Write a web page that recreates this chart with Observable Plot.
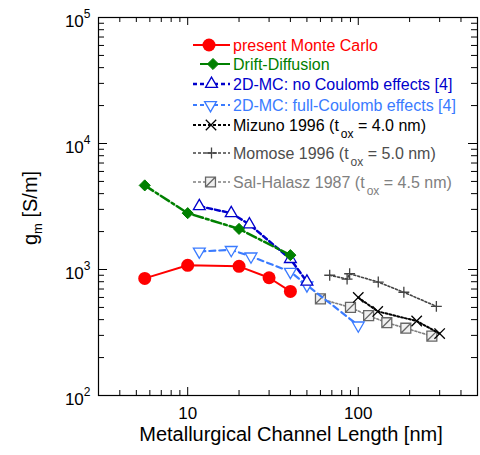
<!DOCTYPE html>
<html><head><meta charset="utf-8">
<script src="https://cdn.jsdelivr.net/npm/d3@7"></script>
<script src="https://cdn.jsdelivr.net/npm/@observablehq/plot@0.6"></script>
<style>
body{margin:0;background:#fff;}
#chart{width:480px;height:455px;}
</style></head><body><div id="chart"></div>
<script>
// ---- data ----
const mcL  = [5.6, 10, 20, 30, 40];
const mcG  = [850, 1080, 1060, 860, 670];
const ddL  = [5.6, 10, 20, 40];
const ddG  = [4650, 2800, 2100, 1300];
const noCL = [11.7, 18, 23, 40, 50];
const noCG = [3180, 2800, 2280, 1210, 800];
const fcL  = [11.7, 18, 23.5, 40, 50, 100];
const fcG  = [1390, 1430, 1270, 960, 750, 360];
const mizL = [100, 130, 220, 300];
const mizG = [600, 465, 390, 310];
const momL = [68, 86, 89, 131, 185, 287];
const momG = [900, 840, 925, 795, 660, 510];
const salL = [60, 90, 115, 147, 190, 270];
const salG = [585, 500, 430, 378, 342, 296];

const xMajor = [10, 100];
const xMinor = [4, 5, 6, 7, 8, 9, 20, 30, 40, 50, 60, 70, 80, 90, 200, 300, 400];
const yMajor = [100, 1000, 10000, 100000];
const yMinor = [200, 300, 400, 500, 600, 700, 800, 900, 2000, 3000, 4000, 5000, 6000, 7000, 8000, 9000,
                20000, 30000, 40000, 50000, 60000, 70000, 80000, 90000];

const legendLabels = [
  ["present Monte Carlo"],
  ["Drift-Diffusion"],
  ["2D-MC: no Coulomb effects [4]"],
  ["2D-MC: full-Coulomb effects [4]"],
  ["Mizuno 1996 (t", "ox", " = 4.0 nm)"],
  ["Momose 1996 (t", "ox", " = 5.0 nm)"],
  ["Sal-Halasz 1987 (t", "ox", " = 4.5 nm)"]
];
const xTitle = "Metallurgical Channel Length [nm]";

// ---- styling ----
const FONT = "'Liberation Sans', Arial, Helvetica, sans-serif";
const W = 480, H = 455, ML = 98, MR = 3, MT = 17, MB = 60;
const FW = W - ML - MR, FH = H - MT - MB;

const boxSlash = {
  draw(ctx, size) {
    const s = Math.sqrt(size) / 2;
    ctx.moveTo(-s, -s); ctx.lineTo(s, -s); ctx.lineTo(s, s); ctx.lineTo(-s, s); ctx.closePath();
    ctx.moveTo(-s, s); ctx.lineTo(s, -s);
  }
};

const zip = (L, G) => L.map((l, i) => ({L: l, g: G[i]}));
const S = [
  {d: zip(salL, salG), color: "#808080", sw: 1.6, dash: "2,2", sym: boxSlash, r: 5.6, fill: "#f0f0f0", mstroke: "#666", msw: 1.3},
  {d: zip(momL, momG), color: "#444", sw: 1.6, dash: "2,2", sym: "plus", r: 3.6, fill: "none", mstroke: "#444", msw: 1.3},
  {d: zip(mizL, mizG), color: "#000", sw: 2, dash: "2,2", sym: "times", r: 4.8, fill: "none", mstroke: "#000", msw: 1.3},
  {d: zip(fcL, fcG), color: "#3a7bff", sw: 2.2, dash: "6,4", sym: "triangle", r: 4.4, fill: "#fff", mstroke: "#3a7bff", msw: 1.3, rot: 180},
  {d: zip(noCL, noCG), color: "#0000cc", sw: 2.5, dash: "5,3", sym: "triangle", r: 4.4, fill: "#fff", mstroke: "#0000cc", msw: 1.3},
  {d: zip(ddL, ddG), color: "#008000", sw: 2.5, dash: "10,3,3,3", sym: "diamond2", r: 5.0, fill: "#008000", mstroke: "#008000", msw: 1},
  {d: zip(mcL, mcG), color: "#ff0000", sw: 2, dash: null, sym: "circle", r: 6.5, fill: "#ff0000", mstroke: "none", msw: 0}
];

const marks = [];
for (const s of S) {
  marks.push(Plot.line(s.d, {x: "L", y: "g", stroke: s.color, strokeWidth: s.sw, strokeDasharray: s.dash}));
  marks.push(Plot.dot(s.d, {x: "L", y: "g", symbol: s.sym, r: s.r, fill: s.fill, stroke: s.mstroke,
    strokeWidth: s.msw, rotate: s.rot || 0}));
}
marks.push(
  Plot.tickY(yMajor, {y: d => d, insetRight: FW - 9, stroke: "#000"}),
  Plot.tickY(yMinor, {y: d => d, insetRight: FW - 6, stroke: "#000"}),
  Plot.tickY(yMajor, {y: d => d, insetLeft: FW - 9, stroke: "#000"}),
  Plot.tickY(yMinor, {y: d => d, insetLeft: FW - 6, stroke: "#000"}),
  Plot.tickX(xMajor, {x: d => d, insetTop: FH - 8, stroke: "#000"}),
  Plot.tickX(xMinor, {x: d => d, insetTop: FH - 5, stroke: "#000"}),
  Plot.tickX(xMajor, {x: d => d, insetBottom: FH - 8, stroke: "#000"}),
  Plot.tickX(xMinor, {x: d => d, insetBottom: FH - 5, stroke: "#000"}),
  Plot.frame({stroke: "#000", strokeWidth: 1.2}),
  Plot.axisX(xMajor, {tickSize: 0, tickPadding: 11, fontSize: 17, label: null, tickFormat: d => String(d)}),
  Plot.axisY(yMajor, {tickSize: 0, tickPadding: 8, fontSize: 17, label: null,
    tickFormat: d => String(Math.round(Math.log10(d)))})
);

const svgEl = Plot.plot({
  width: W, height: H,
  marginLeft: ML, marginRight: MR, marginTop: MT, marginBottom: MB,
  style: {fontFamily: FONT, background: "#fff", color: "#000", overflow: "visible"},
  x: {type: "log", domain: [3, 500]},
  y: {type: "log", domain: [100, 100000]},
  marks
});
document.getElementById("chart").append(svgEl);

const svg = d3.select(svgEl);
// superscript exponents on y tick labels
svg.selectAll('g[aria-label="y-axis tick label"] text').each(function() {
  const t = d3.select(this);
  const e = t.text();
  t.text("");
  t.append("tspan").attr("dy", "4").text("10");
  t.append("tspan").attr("dy", "-9").attr("font-size", 12).text(e);
});

// axis titles
svg.append("text").attr("x", 291).attr("y", 441).attr("text-anchor", "middle")
  .attr("font-family", FONT).attr("font-size", 20).attr("fill", "#000").text(xTitle);
const yt = svg.append("text").attr("transform", "translate(37,208) rotate(-90)")
  .attr("text-anchor", "middle").attr("font-family", FONT).attr("font-size", 20).attr("fill", "#000");
yt.append("tspan").text("g");
yt.append("tspan").attr("font-size", 13).attr("dy", 5).text("m");
yt.append("tspan").attr("dy", -5).text(" [S/m]");

// legend
const rows = [
  {y: 45,  x1: 193, s: S[6], mx: 209, tc: "#ff0000", dash: null, sw: 2},
  {y: 64,  x1: 200, s: S[5], mx: 213, tc: "#008000", dash: null, sw: 2},
  {y: 84,  x1: 193, s: S[4], mx: 211.5, tc: "#0000cc", dash: "4,3", sw: 2.5},
  {y: 105, x1: 193, s: S[3], mx: 210.5, tc: "#3a7bff", dash: "4,3", sw: 1.8},
  {y: 125, x1: 193, s: S[2], mx: 211, tc: "#000", dash: "3,2", sw: 1.8},
  {y: 153, x1: 193, s: S[1], mx: 211.5, tc: "#4d4d4d", dash: "3,2", sw: 1.6},
  {y: 182, x1: 193, s: S[0], mx: 210.5, tc: "#808080", dash: "3,2", sw: 1.6}
];
const symMap = {circle: d3.symbolCircle, diamond2: d3.symbolDiamond2, triangle: d3.symbolTriangle,
  times: d3.symbolTimes, plus: d3.symbolPlus};
const lg = svg.append("g").attr("font-family", FONT).attr("font-size", 16).attr("text-anchor", "start");
rows.forEach((r, i) => {
  const s = r.s;
  lg.append("line").attr("x1", r.x1).attr("x2", 230).attr("y1", r.y).attr("y2", r.y)
    .attr("stroke", s.color).attr("stroke-width", r.sw).attr("stroke-dasharray", r.dash);
  const sym = typeof s.sym === "string" ? symMap[s.sym] : s.sym;
  lg.append("path").attr("d", d3.symbol(sym, Math.PI * s.r * s.r)())
    .attr("transform", `translate(${r.mx},${r.y}) rotate(${s.rot || 0})`)
    .attr("fill", s.fill).attr("stroke", s.mstroke).attr("stroke-width", s.msw);
  const parts = legendLabels[i];
  const t = lg.append("text").attr("x", 233).attr("y", r.y + 6).attr("fill", r.tc).attr("text-anchor", "start");
  t.append("tspan").text(parts[0]);
  if (parts.length > 1) {
    t.append("tspan").attr("font-size", 12).attr("dx", 2).attr("dy", 7).text(parts[1]);
    t.append("tspan").attr("dy", -7).text(parts[2]);
  }
});
</script>
</body></html>
